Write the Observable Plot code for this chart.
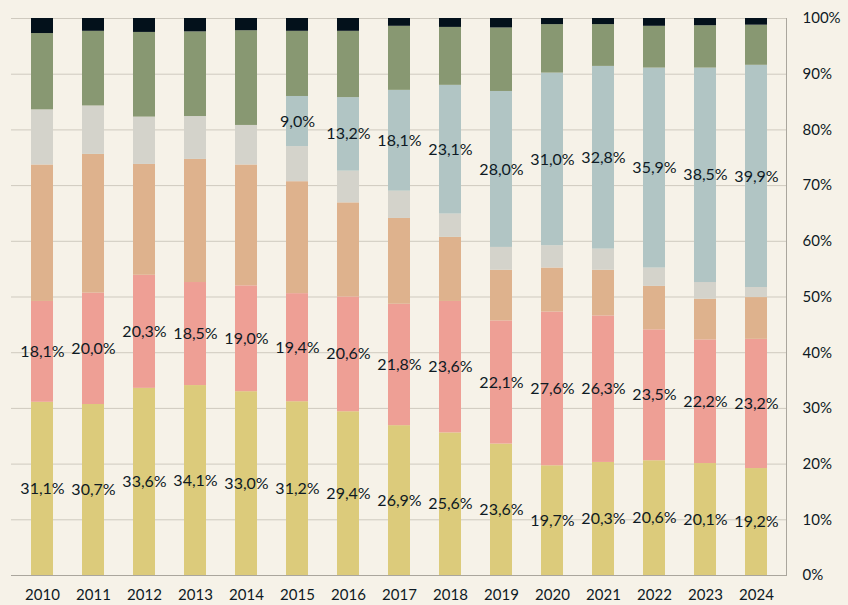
<!DOCTYPE html>
<html>
<head>
<meta charset="utf-8">
<script src="https://cdn.jsdelivr.net/npm/d3@7"></script>
<script src="https://cdn.jsdelivr.net/npm/@observablehq/plot@0.6"></script>
<style>
  html, body { margin: 0; padding: 0; background: #f6f2e8; }
</style>
</head>
<body>
<div id="chart"></div>
<script>
const years = [2010, 2011, 2012, 2013, 2014, 2015, 2016, 2017, 2018, 2019, 2020, 2021, 2022, 2023, 2024];
const seriesNames = ["s1", "s2", "s3", "s4", "s5", "s6", "s7"];
const seriesColors = ["#dccb7b", "#ee9f95", "#deb28d", "#d4d3cb", "#b1c5c4", "#889872", "#03111b"];
const labeledSeries = ["s1", "s2", "s5"];

const s1 = [31.1, 30.7, 33.6, 34.1, 33.0, 31.2, 29.4, 26.9, 25.6, 23.6, 19.7, 20.3, 20.6, 20.1, 19.2];
const s2 = [18.1, 20.0, 20.3, 18.5, 19.0, 19.4, 20.6, 21.8, 23.6, 22.1, 27.6, 26.3, 23.5, 22.2, 23.2];
const s3 = [24.5, 24.9, 19.9, 22.1, 21.7, 20.1, 16.9, 15.4, 11.5, 9.1, 7.9, 8.2, 7.8, 7.3, 7.5];
const s4 = [9.9, 8.7, 8.5, 7.7, 7.1, 6.3, 5.7, 4.9, 4.2, 4.1, 4.0, 3.8, 3.3, 3.0, 1.8];
const s5 = [0, 0, 0, 0, 0, 9.0, 13.2, 18.1, 23.1, 28.0, 31.0, 32.8, 35.9, 38.5, 39.9];
const s6 = [13.7, 13.4, 15.2, 15.2, 17.0, 11.7, 11.9, 11.5, 10.4, 11.4, 8.7, 7.5, 7.5, 7.6, 7.2];
const s7 = [2.7, 2.3, 2.5, 2.4, 2.2, 2.3, 2.3, 1.4, 1.6, 1.7, 1.1, 1.1, 1.4, 1.3, 1.2];
const yTicks = [0, 10, 20, 30, 40, 50, 60, 70, 80, 90, 100];

const seriesValues = [s1, s2, s3, s4, s5, s6, s7];
const data = [];
years.forEach((yr, i) => {
  seriesNames.forEach((s, j) => {
    data.push({year: String(yr), series: s, value: seriesValues[j][i]});
  });
});

const fmt = v => v.toFixed(1).replace(".", ",") + "%";
const font = "Lato, 'Open Sans', sans-serif";

const chart = Plot.plot({
  width: 848,
  height: 605,
  marginLeft: 11,
  marginRight: 62,
  marginTop: 18,
  marginBottom: 30,
  style: {background: "#f6f2e8", fontFamily: font, fontSize: "15px", color: "#0e1a24", overflow: "visible"},
  x: {domain: years.map(String), paddingInner: 0.575, paddingOuter: 0.2875, label: null},
  y: {domain: [0, 100], label: null},
  color: {domain: seriesNames, range: seriesColors},
  marks: [
    Plot.ruleY(yTicks, {stroke: "#cfcabf", strokeWidth: 1}),
    Plot.barY(data, {x: "year", y: "value", fill: "series", order: seriesNames}),
    Plot.ruleY([0], {stroke: "#aaa69d", strokeWidth: 1}),
    Plot.frame({anchor: "right", stroke: "#aaa69d"}),
    Plot.text(data, Plot.stackY({
      x: "year", y: "value", z: "series", order: seriesNames,
      text: d => (labeledSeries.includes(d.series) && d.value > 0) ? fmt(d.value) : null,
      fill: "#0e1a24", fontSize: 16, fontFamily: font
    })),
    Plot.axisY({anchor: "right", ticks: yTicks, tickSize: 0, tickPadding: 16, tickFormat: d => d + "%", fontSize: 15, label: null, fill: "#0e1a24"}),
    Plot.axisX({anchor: "bottom", tickSize: 0, tickPadding: 14, fontSize: 15, label: null, fill: "#0e1a24"})
  ]
});
document.getElementById("chart").appendChild(chart);
</script>
</body>
</html>
